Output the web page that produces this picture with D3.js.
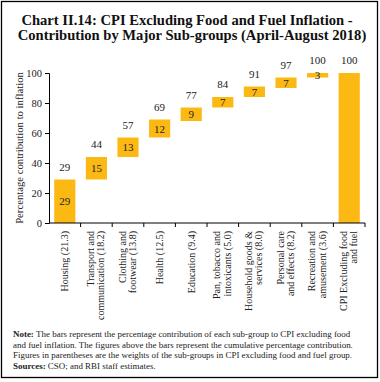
<!DOCTYPE html>
<html>
<head>
<meta charset="utf-8">
<script src="https://cdn.jsdelivr.net/npm/d3@7"></script>
<style>
  body { margin: 0; background: #fff; }
  svg { display: block; font-family: "Liberation Serif", "Times New Roman", serif; }
</style>
</head>
<body>
<div id="chart"></div>
<script>
// sub-groups (label lines) and values
const categories = [
  ["Housing (21.3)"],
  ["Transport and", "communication (18.2)"],
  ["Clothing and", "footwear (13.8)"],
  ["Health (12.5)"],
  ["Education (9.4)"],
  ["Pan, tobacco and", "intoxicants (5.0)"],
  ["Household goods &", "services (8.0)"],
  ["Personal care", "and effects (8.2)"],
  ["Recreation and", "amusement (3.6)"],
  ["CPI Excluding food", "and fuel"]
];
const contribution = [29, 15, 13, 12, 9, 7, 7, 7, 3, 100];
const cumulative = [29, 44, 57, 69, 77, 84, 91, 97, 100, 100];
const yTicks = [0, 20, 40, 60, 80, 100];

const width = 380, height = 382;
const margin = { top: 73, right: 15, bottom: 159, left: 49 };
const barColor = "#FDB913";

const svg = d3.select("#chart").append("svg")
  .attr("width", width)
  .attr("height", height);

// outer frame
svg.append("rect")
  .attr("x", 1.5).attr("y", 1.5)
  .attr("width", 376).attr("height", 376)
  .attr("fill", "none")
  .attr("stroke", "#000")
  .attr("stroke-width", 1.3);

// title
const title = svg.append("text")
  .attr("text-anchor", "middle")
  .attr("font-weight", "bold")
  .attr("font-size", "14.6px")
  .attr("fill", "#111");
title.append("tspan").attr("x", 187).attr("y", 25)
  .text("Chart II.14: CPI Excluding Food and Fuel Inflation -");
title.append("tspan").attr("x", 192).attr("y", 40)
  .text("Contribution by Major Sub-groups (April-August 2018)");

const x = d3.scaleBand()
  .domain(d3.range(categories.length))
  .range([margin.left, width - margin.right])
  .paddingInner(0.33)
  .paddingOuter(0.165);

const y = d3.scaleLinear()
  .domain([0, 100])
  .range([height - margin.bottom, margin.top]);

const g = svg.append("g");

// bars: each one floats from (cumulative - contribution) up to cumulative
g.selectAll("rect.bar")
  .data(contribution)
  .enter()
  .append("rect")
  .attr("class", "bar")
  .attr("x", (d, i) => x(i))
  .attr("width", x.bandwidth())
  .attr("y", (d, i) => y(cumulative[i]))
  .attr("height", (d, i) => y(cumulative[i] - d) - y(cumulative[i]))
  .attr("fill", barColor);

// value inside the bar (not for the last total bar)
g.selectAll("text.inside")
  .data(contribution.slice(0, -1))
  .enter()
  .append("text")
  .attr("class", "inside")
  .attr("x", (d, i) => x(i) + x.bandwidth() / 2)
  .attr("y", (d, i) => y(cumulative[i] - d / 2) + 4)
  .attr("text-anchor", "middle")
  .attr("font-size", "11px")
  .attr("fill", "#222")
  .text(d => d);

// cumulative figure above each bar
g.selectAll("text.cum")
  .data(cumulative)
  .enter()
  .append("text")
  .attr("class", "cum")
  .attr("x", (d, i) => x(i) + x.bandwidth() / 2)
  .attr("y", d => y(d) - 9)
  .attr("text-anchor", "middle")
  .attr("font-size", "11px")
  .attr("fill", "#222")
  .text(d => d);

// y axis
const yAxis = svg.append("g")
  .attr("transform", `translate(${margin.left},0)`)
  .call(d3.axisLeft(y).tickValues(yTicks).tickSize(4).tickPadding(3));
yAxis.select(".domain").attr("stroke", "#000");
yAxis.selectAll("text").attr("font-size", "10.5px").attr("fill", "#222")
  .attr("font-family", "Liberation Serif, serif");

// x axis: ticks at band boundaries
const x0 = y(0);
const xAxis = svg.append("g");
xAxis.append("line")
  .attr("x1", margin.left).attr("x2", width - margin.right)
  .attr("y1", x0).attr("y2", x0)
  .attr("stroke", "#000");
const step = x.step();
xAxis.selectAll("line.tick")
  .data(d3.range(1, categories.length + 1))
  .enter()
  .append("line")
  .attr("class", "tick")
  .attr("x1", i => margin.left + i * step)
  .attr("x2", i => margin.left + i * step)
  .attr("y1", x0).attr("y2", x0 + 4)
  .attr("stroke", "#000");

// rotated category labels
const lab = svg.selectAll("text.xlab")
  .data(categories)
  .enter()
  .append("text")
  .attr("class", "xlab")
  .attr("text-anchor", "end")
  .attr("font-size", "10px")
  .attr("fill", "#222")
  .attr("transform", (d, i) => {
    const cx = x(i) + x.bandwidth() / 2;
    const off = d.length === 1 ? 3.5 : -2.5;
    return `translate(${cx + off},${x0 + 8}) rotate(-90)`;
  });
lab.selectAll("tspan")
  .data(d => d)
  .enter()
  .append("tspan")
  .attr("x", 0)
  .attr("y", (d, j) => j * 10.5)
  .text(d => d);

// y axis title
svg.append("text")
  .attr("transform", `translate(23,${(y(0) + y(100)) / 2}) rotate(-90)`)
  .attr("text-anchor", "middle")
  .attr("font-size", "10.7px")
  .attr("fill", "#222")
  .text("Percentage contribution to inflation");

// note and sources
const noteLines = [
  [["Note: ", true], ["The bars represent the percentage contribution of each sub-group to CPI excluding food", false]],
  [["and fuel inflation. The figures above the bars represent the cumulative percentage contribution.", false]],
  [["Figures in parentheses are the weights of the sub-groups in CPI excluding food and fuel group.", false]],
  [["Sources: ", true], ["CSO; and RBI staff estimates.", false]]
];
const note = svg.append("text")
  .attr("font-size", "8.95px")
  .attr("fill", "#222");
noteLines.forEach((line, k) => {
  line.forEach((part, j) => {
    const t = note.append("tspan")
      .attr("font-weight", part[1] ? "bold" : "normal")
      .text(part[0]);
    if (j === 0) t.attr("x", 13).attr("y", 337 + k * 10.6);
  });
});
</script>
</body>
</html>
